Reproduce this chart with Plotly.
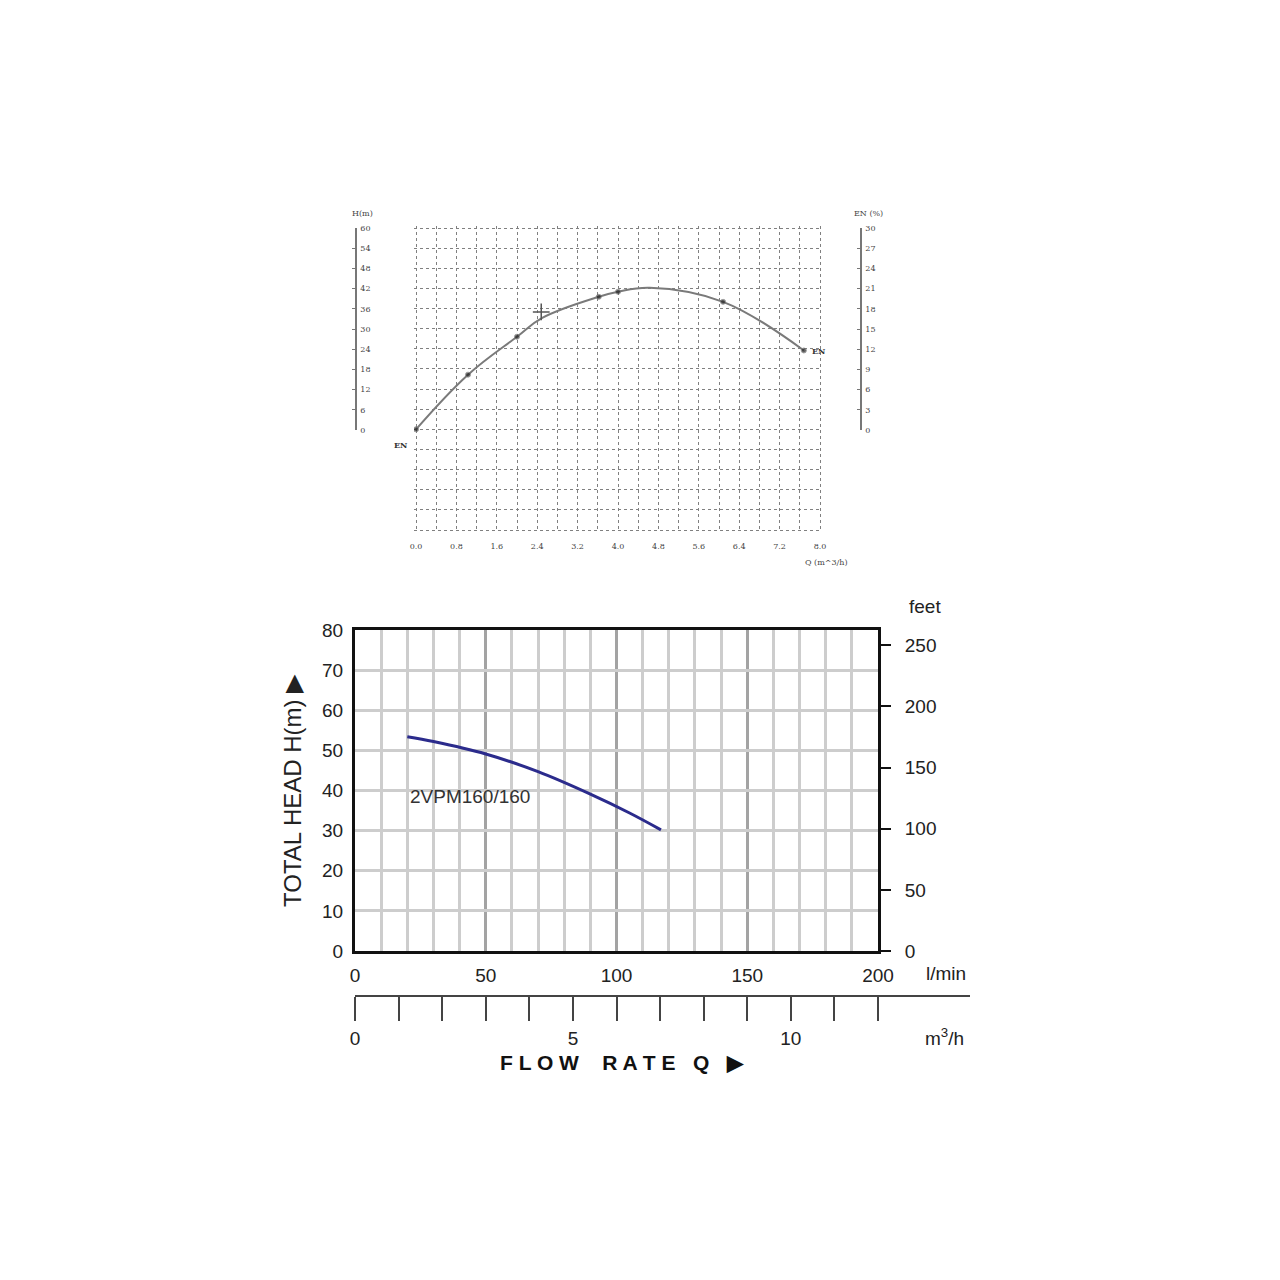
import plotly.graph_objects as go

W = 1280.0
OFF = 8.0  # page body margin

def px_x(p):
    return (p - OFF) / W

def px_y(p):
    return 1 - (p - OFF) / W

# ---------------- data ----------------
# top chart (Q in m^3/h, H in m)
top_q = [0.0, 1.03, 2.0, 2.5, 3.62, 4.0, 4.63, 6.08, 7.68]
top_h = [0.0, 16.3, 27.6, 33.2, 39.5, 41.0, 42.2, 38.0, 23.5]
top_dot = [5, 5, 5, 0, 5, 5, 0, 5, 5]
cross_q = [2.48]
cross_h = [35.0]
top_x_ticks = [0.0, 0.8, 1.6, 2.4, 3.2, 4.0, 4.8, 5.6, 6.4, 7.2, 8.0]
top_h_ticks = [0, 6, 12, 18, 24, 30, 36, 42, 48, 54, 60]
top_eff_ticks = [0, 3, 6, 9, 12, 15, 18, 21, 24, 27, 30]
top_grid_h = [-30, -24, -18, -12, -6, 0, 6, 12, 18, 24, 30, 36, 42, 48, 54, 60]

# bottom chart (Q in l/min, H in m)
curve_q = [20, 30, 50, 70, 90, 105, 117]
curve_h = [53.4, 52.2, 49.1, 44.7, 39.1, 34.4, 30.2]
curve_name = "2VPM160/160"
lmin_ticks = [0, 50, 100, 150, 200]
head_ticks = [0, 10, 20, 30, 40, 50, 60, 70, 80]
feet_ticks = [0, 50, 100, 150, 200, 250]
m3h_ticks = list(range(0, 13))
m3h_labels = ["0", "", "", "", "", "5", "", "", "", "", "10", "", ""]

FT_PER_M = 3.28084

fig = go.Figure()

# ---- top chart ----
fig.add_trace(go.Scatter(
    x=top_q, y=top_h, mode="lines+markers", line=dict(color="#7a7a7a", width=2, shape="spline", smoothing=1.1),
    marker=dict(size=top_dot, color="#222"), xaxis="x", yaxis="y", showlegend=False, hoverinfo="skip"))
fig.add_trace(go.Scatter(
    x=cross_q, y=cross_h, mode="markers", marker=dict(symbol="cross-thin-open", size=12, color="#555",
    line=dict(color="#555", width=1.5)), xaxis="x", yaxis="y", showlegend=False, hoverinfo="skip"))
fig.add_trace(go.Scatter(x=[None], y=[None], xaxis="x2", yaxis="y2", showlegend=False))
fig.add_trace(go.Scatter(x=[None], y=[None], xaxis="x3", yaxis="y3", showlegend=False))

# ---- bottom chart ----
fig.add_trace(go.Scatter(
    x=curve_q, y=curve_h, mode="lines", line=dict(color="#2b2b8c", width=3, shape="spline"),
    xaxis="x4", yaxis="y4", showlegend=False, hoverinfo="skip"))
fig.add_trace(go.Scatter(x=[None], y=[None], xaxis="x4", yaxis="y5", showlegend=False))
fig.add_trace(go.Scatter(x=[None], y=[None], xaxis="x6", yaxis="y6", showlegend=False))

small_font = dict(family="DejaVu Serif", size=8, color="#444")
big_font = dict(family="Liberation Sans, Arial", size=19, color="#222")

# top plot: pad the range by two pixels so the border gridlines are drawn
x_pad = 2 * 8.0 / 404
y_pad = 2 * 90.0 / 302

fig.update_layout(
    width=1280, height=1280, margin=dict(l=0, r=0, t=0, b=0, autoexpand=False),
    paper_bgcolor="white", plot_bgcolor="rgba(0,0,0,0)",
    # top main plot
    xaxis=dict(domain=[px_x(414), px_x(822)], range=[-x_pad, 8 + x_pad], anchor="y", automargin=False,
               tickvals=top_x_ticks, ticktext=["%.1f" % v for v in top_x_ticks],
               tickfont=small_font, ticks="", ticklabelstandoff=8,
               showgrid=True, gridcolor="#808080", gridwidth=1, griddash="dot",
               minor=dict(dtick=0.4, showgrid=True, gridcolor="#808080", gridwidth=1, griddash="dot"),
               zeroline=False, showline=False),
    yaxis=dict(domain=[px_y(532), px_y(226)], range=[-30 - y_pad, 60 + y_pad], anchor="x", automargin=False,
               tickvals=top_grid_h, showticklabels=False, ticks="",
               showgrid=True, gridcolor="#808080", gridwidth=1, griddash="dot",
               zeroline=False, showline=False),
    # top left axis (H)
    xaxis2=dict(domain=[px_x(354), px_x(355)], visible=False, range=[0, 1], anchor="y2", automargin=False),
    yaxis2=dict(domain=[px_y(430), px_y(228)], range=[0, 60], anchor="x2", side="right", automargin=False,
                tickvals=top_h_ticks, ticks="inside", ticklen=3, tickcolor="#777",
                showline=True, linecolor="#777", linewidth=1.5, showgrid=False, zeroline=False,
                tickfont=small_font, ticklabelstandoff=2),
    # top right axis (efficiency)
    xaxis3=dict(domain=[px_x(859), px_x(860)], visible=False, range=[0, 1], anchor="y3", automargin=False),
    yaxis3=dict(domain=[px_y(430), px_y(228)], range=[0, 30], anchor="x3", side="right", automargin=False,
                tickvals=top_eff_ticks, ticks="inside", ticklen=3, tickcolor="#777",
                showline=True, linecolor="#777", linewidth=1.5, showgrid=False, zeroline=False,
                tickfont=small_font, ticklabelstandoff=2),
    # bottom main plot
    xaxis4=dict(domain=[px_x(355), px_x(878)], range=[0, 200], anchor="y4", automargin=False,
                tickvals=lmin_ticks, ticks="", tickfont=big_font, ticklabelstandoff=5,
                showgrid=True, gridcolor="#a3a3a3", gridwidth=3,
                minor=dict(dtick=10, showgrid=True, gridcolor="#cdcdcd", gridwidth=2.5),
                showline=True, mirror=True, linecolor="#111", linewidth=3, zeroline=False),
    yaxis4=dict(domain=[px_y(951), px_y(630)], range=[0, 80], anchor="x4", automargin=False,
                tickvals=head_ticks, ticks="", tickfont=big_font, ticklabelstandoff=5,
                showgrid=True, gridcolor="#cdcdcd", gridwidth=2.5,
                showline=True, mirror=True, linecolor="#111", linewidth=3, zeroline=False),
    yaxis5=dict(overlaying="y4", anchor="x4", side="right", range=[0, 80 * FT_PER_M], automargin=False,
                tickvals=feet_ticks, ticks="outside", ticklen=12, tickwidth=2, tickcolor="#111",
                tickfont=big_font, ticklabelstandoff=10, showgrid=False, zeroline=False, showline=False),
    # m3/h axis
    xaxis6=dict(domain=[px_x(355), px_x(970)], range=[0, 12 * (970 - 355) / (878 - 355)], anchor="y6",
                automargin=False,
                tickvals=m3h_ticks, ticktext=m3h_labels, ticks="outside", ticklen=24, tickwidth=2,
                tickcolor="#444", showline=True, linecolor="#444", linewidth=2,
                tickfont=big_font, ticklabelstandoff=1, showgrid=False, zeroline=False),
    yaxis6=dict(domain=[px_y(995), px_y(994)], range=[0, 1], anchor="x6", visible=False, automargin=False),
)

def ann(text, x, y, font, xanchor="center", yanchor="middle", angle=0):
    fig.add_annotation(text=text, x=px_x(x), y=px_y(y), xref="paper", yref="paper",
                       showarrow=False, font=font, xanchor=xanchor, yanchor=yanchor, textangle=angle)

ann("H(m)", 362, 214, small_font)
ann("EN (%)", 868, 214, small_font)
ann("Q (m^3/h)", 826, 562, small_font)
ann("<b>EN</b>", 400, 445, dict(family="DejaVu Serif", size=8, color="#333"))
ann("<b>EN</b>", 818, 351, dict(family="DejaVu Serif", size=8, color="#333"))

ann("feet", 925, 606, big_font)
ann("l/min", 946, 973, big_font)
ann("m<sup>3</sup>/h", 944, 1037, big_font)
ann("TOTAL HEAD H(m) \u25B6", 292, 791, dict(family="Liberation Sans, Arial", size=24, color="#222"), angle=-90)
ann("<b>F L O W    R A T E   Q   \u25B6</b>", 622, 1062,
    dict(family="Liberation Sans, Arial", size=21, color="#111"))
fig.add_annotation(text=curve_name, x=44, y=38.4, xref="x4", yref="y4", showarrow=False,
                   font=dict(family="Liberation Sans, Arial", size=19, color="#333"))

fig.write_html("out.html")
